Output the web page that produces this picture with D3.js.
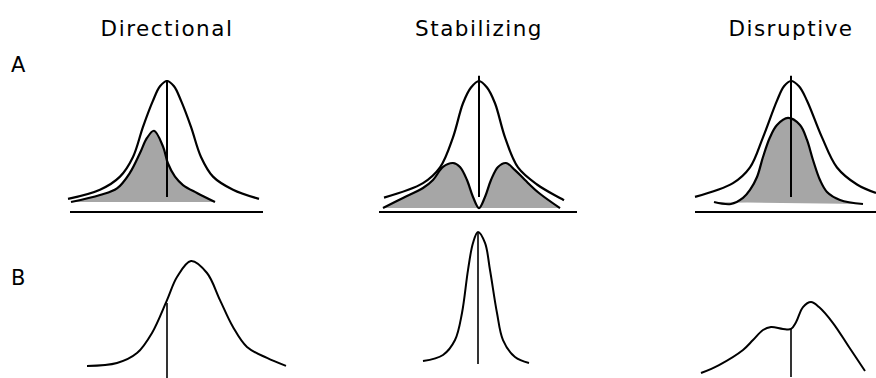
<!DOCTYPE html>
<html>
<head>
<meta charset="utf-8">
<script src="https://cdn.jsdelivr.net/npm/d3@7"></script>
<style>
  body { margin: 0; background: #fff; }
  svg { display: block; }
  text { font-family: "DejaVu Sans", sans-serif; fill: #000; }
</style>
</head>
<body>
<div id="chart"></div>
<script>
// column titles and row labels
var columns = ["Directional", "Stabilizing", "Disruptive"];
var rowLabels = ["A", "B"];

// row A, before selection (white curve): trait offset from mean, frequency
var dirBeforeX = [-99, -67, -47, -34, -24, -14, -7, 0, 7, 14, 24, 34, 46, 66, 92];
var dirBeforeY = [10, 17, 27, 42, 65, 85, 96, 100, 96, 85, 65, 42, 27, 17, 10];
var stabBeforeX = [-95, -56, -39, -26, -16, -8, 0, 8, 16, 26, 39, 58, 85];
var stabBeforeY = [11, 22, 34, 57, 83, 95, 100, 95, 83, 57, 34, 21, 9];
var disBeforeX = [-96, -58, -41, -28, -14, -7, 0, 8, 16, 31, 46, 66, 85];
var disBeforeY = [11.5, 22, 34, 57, 85, 96, 100, 96, 85, 57, 34, 21, 14.5];

// row A, after selection (grey curve)
var dirAfterX = [-96, -67, -50, -37, -27, -20, -13, -4, 1, 8, 16, 30, 48];
var dirAfterY = [7.6, 13, 18, 30, 45, 56.5, 62, 50, 37, 27, 20.6, 14.5, 7.6];
var stabAfterX = [-96, -76, -56, -46, -36, -26, -19, -12, -6, 0, 6, 12, 19, 27, 36, 46, 60, 81];
var stabAfterY = [3, 10.7, 18.3, 24.4, 34.4, 37.4, 34.4, 24.4, 11.5, 3, 11.5, 24.4, 34.4, 37.4, 32, 24.4, 14.5, 3];
var disAfterX = [-77, -60, -48, -41, -34, -28, -21, -14, -3, 9, 16, 22, 29, 36, 49, 72];
var disAfterY = [7.6, 6.1, 10.7, 16.8, 26.7, 42, 57, 66.4, 71.8, 66.4, 55, 39.7, 24.4, 15.3, 9.2, 6.1];

// row A baseline extent and mean line
var baseLeft = [-97, -100, -96];
var baseRight = [96, 98, 100];
var meanAX = [0, 0, 0];
var meanALow = [11.5, 11.5, 11.5];
var meanAHigh = [100.8, 104, 104];

// row B, response of the next generation
var dirRespX = [-80, -50, -30, -15, 0, 10, 24, 40, 53, 66, 80, 100, 119];
var dirRespY = [9.5, 11.5, 18.2, 31.8, 54, 69.6, 80.4, 72.3, 54, 35.8, 22.3, 14.9, 9.5];
var stabRespX = [-56, -36, -24, -17, -11, -6, -1, 6, 11, 18, 24, 36, 50];
var stabRespY = [12.8, 16.9, 27, 45.3, 74.3, 92.6, 100, 92.6, 74.3, 45.3, 27, 15.5, 11.5];
var disRespX = [-90, -72, -48, -38, -28, -20, -8, 0, 5, 12, 20, 28, 42, 58, 74];
var disRespY = [4.7, 10.1, 20.3, 27, 33.8, 35.8, 34.5, 34.5, 39, 49.3, 52.7, 49.3, 38.5, 22.3, 6.1];

// row B mean line
var meanBX = [0, -1, 0];
var meanBLow = [-1, 10.8, 2];
var meanBHigh = [52, 100, 34.5];

var beforeX = [dirBeforeX, stabBeforeX, disBeforeX];
var beforeY = [dirBeforeY, stabBeforeY, disBeforeY];
var afterX = [dirAfterX, stabAfterX, disAfterX];
var afterY = [dirAfterY, stabAfterY, disAfterY];
var respX = [dirRespX, stabRespX, disRespX];
var respY = [dirRespY, stabRespY, disRespY];

var width = 876, height = 378;

var svg = d3.select("#chart").append("svg")
    .attr("width", width)
    .attr("height", height);

// column centres
var colScale = d3.scalePoint().domain(columns).range([167, 791]);
var yA = d3.scaleLinear().domain([0, 100]).range([212, 81]);
var yB = d3.scaleLinear().domain([0, 100]).range([380, 232]);

function zip(xs, ys) {
    return xs.map(function (x, i) { return [x, ys[i]]; });
}

columns.forEach(function (name, i) {
    var cx = colScale(name);
    var x = d3.scaleLinear().domain([-150, 150]).range([cx - 150, cx + 150]);

    var lineA = d3.line()
        .x(function (d) { return x(d[0]); })
        .y(function (d) { return yA(d[1]); })
        .curve(d3.curveCatmullRom.alpha(0.5));
    var lineB = d3.line()
        .x(function (d) { return x(d[0]); })
        .y(function (d) { return yB(d[1]); })
        .curve(d3.curveCatmullRom.alpha(0.5));

    // title
    svg.append("text")
        .attr("x", cx)
        .attr("y", 36)
        .attr("text-anchor", "middle")
        .attr("font-size", "21.5px")
        .style("letter-spacing", "1.5px")
        .text(name);

    // baseline
    svg.append("line")
        .attr("x1", x(baseLeft[i])).attr("x2", x(baseRight[i]))
        .attr("y1", yA(0)).attr("y2", yA(0))
        .attr("stroke", "#000").attr("stroke-width", 2);

    var before = zip(beforeX[i], beforeY[i]);
    var after = zip(afterX[i], afterY[i]);

    // white curve (before selection)
    svg.append("path")
        .attr("d", lineA(before))
        .attr("fill", "none")
        .attr("stroke", "#000")
        .attr("stroke-width", 2.2);

    // grey fill then its outline
    svg.append("path")
        .attr("d", lineA(after) + "Z")
        .attr("fill", "#a6a6a6")
        .attr("stroke", "none");
    svg.append("path")
        .attr("d", lineA(after))
        .attr("fill", "none")
        .attr("stroke", "#000")
        .attr("stroke-width", 2.2);

    // mean line, row A
    svg.append("line")
        .attr("x1", x(meanAX[i])).attr("x2", x(meanAX[i]))
        .attr("y1", yA(meanALow[i])).attr("y2", yA(meanAHigh[i]))
        .attr("stroke", "#000").attr("stroke-width", 2);

    // row B curve
    svg.append("path")
        .attr("d", lineB(zip(respX[i], respY[i])))
        .attr("fill", "none")
        .attr("stroke", "#000")
        .attr("stroke-width", 2);

    svg.append("line")
        .attr("x1", x(meanBX[i])).attr("x2", x(meanBX[i]))
        .attr("y1", yB(meanBLow[i])).attr("y2", yB(meanBHigh[i]))
        .attr("stroke", "#000").attr("stroke-width", 1.6);
});

// row labels
var rowY = d3.scaleOrdinal().domain(rowLabels).range([72, 285]);
svg.selectAll("text.row")
    .data(rowLabels)
    .enter()
    .append("text")
    .attr("class", "row")
    .attr("x", 11)
    .attr("y", function (d) { return rowY(d); })
    .attr("font-size", "21px")
    .text(function (d) { return d; });
</script>
</body>
</html>
